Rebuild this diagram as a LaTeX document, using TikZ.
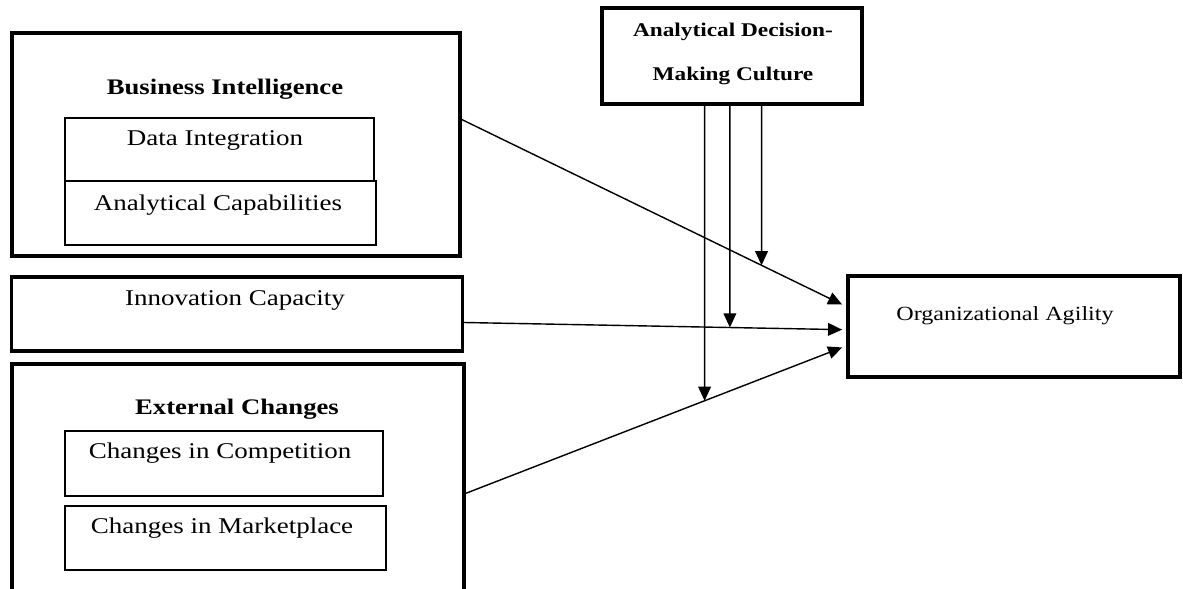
\documentclass[tikz,border=0pt]{standalone}
\usepackage{fontspec}
\setmainfont{Liberation Serif}[FakeStretch=1.2]
\usetikzlibrary{arrows.meta,calc}

\tikzset{
  bigbox/.style={draw, line width=2.6pt, inner sep=0pt},
  subbox/.style={draw, line width=1.3pt, inner sep=0pt},
  lbl/.style={font=\fontsize{16}{18}\selectfont, inner sep=0pt},
  blbl/.style={font=\fontsize{15.8}{18}\selectfont\bfseries, inner sep=0pt},
  link/.style={line width=1pt, -{Triangle[length=10pt,width=9pt]}}
}

\begin{document}
\begin{tikzpicture}[x=0.025cm, y=-0.025cm]
\useasboundingbox (0,0) rectangle (1183,588);
% left blocks
\node[bigbox, minimum width=11.2cm, minimum height=5.575cm] (bi) at (236,144.5){};
\node[subbox, minimum width=7.725cm, minimum height=1.575cm] (di) at (219.5,149.5){};
\node[subbox, minimum width=7.775cm, minimum height=1.6cm] (ac) at (220.5,213){};
\node[bigbox, line width=2.2pt, minimum width=11.25cm, minimum height=1.85cm] (ic) at (237,314){};
\node[bigbox, minimum width=11.3cm, minimum height=5.7cm] (ec) at (238,478){};
\node[subbox, minimum width=7.95cm, minimum height=1.625cm] (cc) at (224,463.5){};
\node[subbox, minimum width=8.025cm, minimum height=1.6cm] (cm) at (225.5,538){};
% right blocks
\node[bigbox, minimum width=6.5cm, minimum height=2.4cm] (admc) at (732,56){};
\node[bigbox, minimum width=8.3cm, minimum height=2.525cm] (oa) at (1014,326.5){};
% texts
\node[blbl] (bi-lbl) at (225,89){Business Intelligence};
\node[lbl] (di-lbl) at (215,140){Data Integration};
\node[lbl] (ac-lbl) at (218,205){Analytical Capabilities};
\node[lbl] (ic-lbl) at (235,300){Innovation Capacity};
\node[blbl] (ec-lbl) at (237,409){External Changes};
\node[lbl] (cc-lbl) at (220,453){Changes in Competition};
\node[lbl] (cm-lbl) at (222,528){Changes in Marketplace};
\node[blbl, font=\fontsize{13.8}{16}\selectfont\bfseries] (admc-lbl1) at (733,32){Analytical Decision-};
\node[blbl, font=\fontsize{13.8}{16}\selectfont\bfseries] (admc-lbl2) at (733,76){Making Culture};
\node[lbl, font=\fontsize{14.3}{16}\selectfont] (oa-lbl) at (1005,316){Organizational Agility};
% arrow ends
\coordinate (bi-out) at ($(bi.north east)!0.39!(bi.south east)$);
\coordinate (ic-out) at ($(ic.north east)!0.61!(ic.south east)$);
\coordinate (ec-out) at ($(ec.north east)!0.566!(ec.south east)$);
\coordinate (oa-in1) at ($(oa.north west)!0.29!(oa.south west)+(-4,0)$);
\coordinate (oa-in2) at ($(oa.north west)!0.53!(oa.south west)+(-4,0)$);
\coordinate (oa-in3) at ($(oa.north west)!0.70!(oa.south west)+(-4,0)$);
\coordinate (m1) at ($(admc.south west)!0.396!(admc.south east)$);
\coordinate (m2) at ($(admc.south west)!0.492!(admc.south east)$);
\coordinate (m3) at ($(admc.south west)!0.612!(admc.south east)$);
\coordinate (m1b) at (m1 |- ec.south);
\coordinate (m2b) at (m2 |- ec.south);
\coordinate (m3b) at (m3 |- ec.south);
\coordinate (h1) at (intersection of m1--m1b and ec-out--oa-in3);
\coordinate (h2) at (intersection of m2--m2b and ic-out--oa-in2);
\coordinate (h3) at (intersection of m3--m3b and bi-out--oa-in1);
% connectors
\draw[link](bi-out) -- (oa-in1);
\draw[link](ic-out) -- (oa-in2);
\draw[link](ec-out) -- (oa-in3);
\draw[link](m1) -- (h1);
\draw[link](m2) -- (h2);
\draw[link](m3) -- (h3);
\end{tikzpicture}
\end{document}
